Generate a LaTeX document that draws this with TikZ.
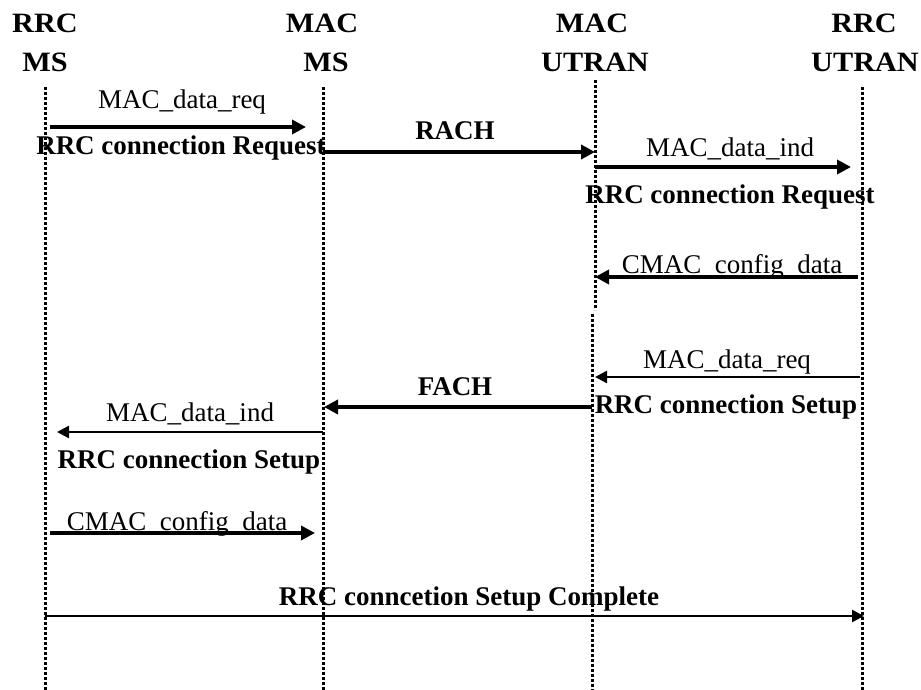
\documentclass[tikz,border=0pt]{standalone}
\usepackage{fontspec}
\setmainfont{Liberation Serif}
\newfontfamily\headfont{Liberation Serif}[FakeStretch=1.08]
\usetikzlibrary{arrows.meta}
\begin{document}
\begin{tikzpicture}[x=1pt,y=-1pt,
  hdr/.style={font=\headfont\fontsize{28}{30}\selectfont\bfseries,anchor=base,inner sep=0pt},
  lbl/.style={font=\fontsize{27}{30}\selectfont,anchor=base,inner sep=0pt},
  blbl/.style={font=\fontsize{27}{30}\selectfont\bfseries,anchor=base,inner sep=0pt},
  lifeline/.style={line width=3pt,dash pattern=on 3pt off 2pt},
  thickmsg/.style={line width=4pt,-{Triangle[length=14pt,width=14pt]}},
  thinmsg/.style={line width=2.5pt,-{Triangle[length=12pt,width=12pt]}}]
\useasboundingbox (0,0) rectangle (921,690);
\fill[white] (0,0) rectangle (921,690);

% entity headers
\node[hdr] (h1a) at (45,33) {RRC};
\node[hdr] (h1b) at (45,72) {MS};
\node[hdr] (h2a) at (322,33) {MAC};
\node[hdr] (h2b) at (326,72) {MS};
\node[hdr] (h3a) at (592,33) {MAC};
\node[hdr] (h3b) at (595,72) {UTRAN};
\node[hdr] (h4a) at (864,33) {RRC};
\node[hdr] (h4b) at (865,72) {UTRAN};

% lifelines
\coordinate (l1t) at (45,87);  \coordinate (l1b) at (45,690);
\coordinate (l2t) at (323,87); \coordinate (l2b) at (323,690);
\coordinate (l3t) at (595,80); \coordinate (l3m) at (595,310);
\coordinate (l3n) at (592,314); \coordinate (l3b) at (592,690);
\coordinate (l4t) at (862,87); \coordinate (l4b) at (862,690);
\draw[lifeline] (l1t) -- (l1b);
\draw[lifeline] (l2t) -- (l2b);
\draw[lifeline] (l3t) -- (l3m);
\draw[lifeline] (l3n) -- (l3b);
\draw[lifeline] (l4t) -- (l4b);

% message end points
\coordinate (m1s) at (50,127);  \coordinate (m1e) at (306,127);
\coordinate (m2s) at (323,152); \coordinate (m2e) at (595,152);
\coordinate (m3s) at (595,167); \coordinate (m3e) at (851,167);
\coordinate (m4s) at (858,277); \coordinate (m4e) at (595,277);
\coordinate (m5s) at (860,377); \coordinate (m5e) at (595,377);
\coordinate (m6s) at (592,407); \coordinate (m6e) at (324,407);
\coordinate (m7s) at (323,432); \coordinate (m7e) at (57,432);
\coordinate (m8s) at (50,533);  \coordinate (m8e) at (315,533);
\coordinate (m9s) at (45,616);  \coordinate (m9e) at (864,616);

% labels
\node[lbl]  (t1)  at (182,109) {MAC\_data\_req};
\node[blbl] (t1b) at (181,155) {RRC connection Request};
\node[blbl] (t2)  at (455,140) {RACH};
\node[lbl]  (t3)  at (730,157) {MAC\_data\_ind};
\node[blbl] (t3b) at (730,204) {RRC connection Request};
\node[lbl]  (t4)  at (732,273) {CMAC\_config\_data};
\node[lbl]  (t5)  at (727,368) {MAC\_data\_req};
\node[blbl] (t5b) at (726,413) {RRC connection Setup};
\node[blbl] (t6)  at (455,395) {FACH};
\node[lbl]  (t7)  at (190,421) {MAC\_data\_ind};
\node[blbl] (t7b) at (189,468) {RRC connection Setup};
\node[lbl]  (t8)  at (177,530) {CMAC\_config\_data};
\node[blbl] (t9)  at (469,605) {RRC conncetion Setup Complete};

% messages
\draw[thickmsg] (m1s) -- (m1e);
\draw[thickmsg] (m2s) -- (m2e);
\draw[thickmsg] (m3s) -- (m3e);
\draw[thickmsg] (m4s) -- (m4e);
\draw[thinmsg]  (m5s) -- (m5e);
\draw[thickmsg] (m6s) -- (m6e);
\draw[thinmsg]  (m7s) -- (m7e);
\draw[thickmsg] (m8s) -- (m8e);
\draw[thinmsg]  (m9s) -- (m9e);
\end{tikzpicture}
\end{document}
